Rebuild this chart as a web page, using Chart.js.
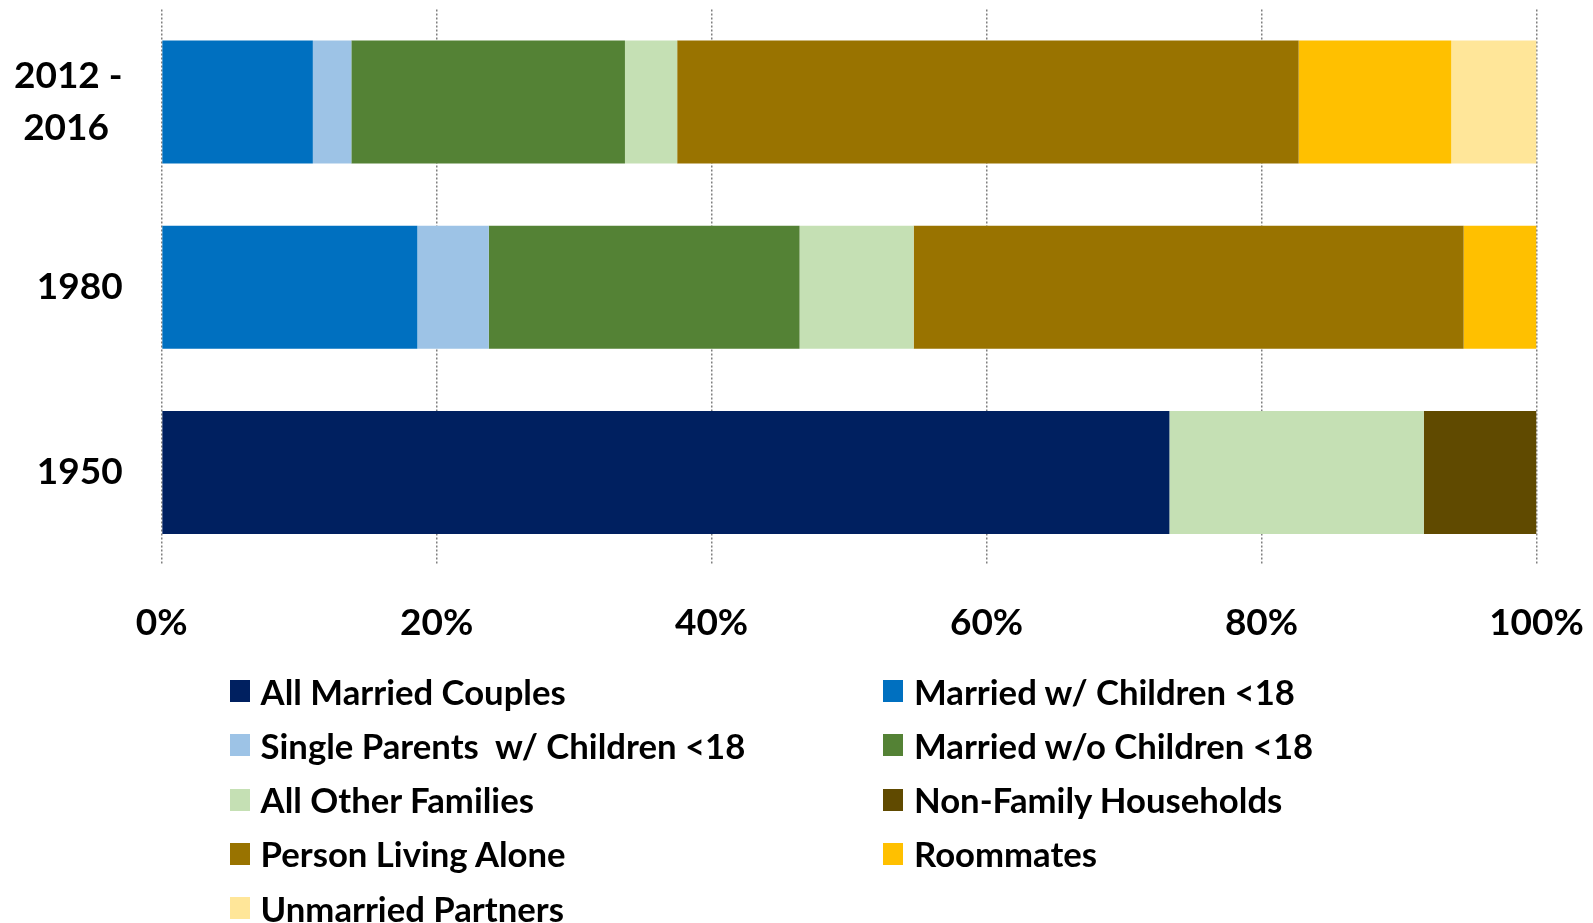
<!DOCTYPE html>
<html>
<head>
<meta charset="utf-8">
<script src="https://cdn.jsdelivr.net/npm/chart.js@4.4.1/dist/chart.umd.min.js"></script>
<style>
  html, body { margin: 0; padding: 0; background: #fff; }
  #wrap { position: relative; width: 1593px; height: 923px; overflow: hidden; }
  #myChart { position: absolute; left: 0; top: 0; }
  .lg { position: absolute; display: flex; align-items: center; font-family: Lato, sans-serif; font-weight: bold; font-size: 34.7px; color: #000; white-space: pre; }
  .lg span.box { display: inline-block; width: 20px; height: 22px; margin-right: 11px; }
</style>
</head>
<body>
<div id="wrap">
  <canvas id="myChart" width="1593" height="923"></canvas>
</div>
<script>
const periods = [['2012 -', '2016 \u2009'], '1980', '1950'];

const seriesNames = [
  'All Married Couples',
  'Married w/ Children <18',
  'Single Parents  w/ Children <18',
  'Married w/o Children <18',
  'All Other Families',
  'Non-Family Households',
  'Person Living Alone',
  'Roommates',
  'Unmarried Partners'
];

const seriesColors = ['#002060', '#0070C0', '#9DC3E6', '#548235', '#C5E0B4', '#604A00', '#997300', '#FFC000', '#FFE699'];

// share of households (%), order: 2012-2016, 1980, 1950
const allMarried     = [0, 0, 73.3];
const marriedKids    = [11.0, 18.6, 0];
const singleParents  = [2.8, 5.2, 0];
const marriedNoKids  = [19.9, 22.6, 0];
const otherFamilies  = [3.8, 8.3, 18.5];
const nonFamily      = [0, 0, 8.2];
const livingAlone    = [45.2, 40.0, 0];
const roommates      = [11.1, 5.3, 0];
const unmarried      = [6.2, 0, 0];

const xTicks = [0, 20, 40, 60, 80, 100];

const seriesValues = [allMarried, marriedKids, singleParents, marriedNoKids, otherFamilies, nonFamily, livingAlone, roommates, unmarried];

const datasets = seriesNames.map((name, i) => ({
  label: name,
  data: seriesValues[i],
  backgroundColor: seriesColors[i],
  borderWidth: 0,
  categoryPercentage: 0.664,
  barPercentage: 1.0
}));

const tickFont = { family: 'Lato', weight: 'bold', size: 37, lineHeight: 1.4 };

const config = {
  type: 'bar',
  data: { labels: periods, datasets: datasets },
  options: {
    indexAxis: 'y',
    responsive: false,
    animation: false,
    layout: { padding: { top: 9.5, right: 56.5, bottom: 278, left: 0 } },
    plugins: {
      legend: { display: false },
      tooltip: { enabled: false }
    },
    scales: {
      x: {
        stacked: true,
        min: 0,
        max: 100,
        afterBuildTicks: function(scale) {
          scale.ticks = xTicks.map(v => ({ value: v }));
        },
        afterFit: function(scale) {
          scale.height = 80;
          scale.paddingLeft = 0;
          scale.paddingRight = 0;
        },
        grid: {
          color: '#7f7f7f',
          lineWidth: 1.5,
          drawTicks: false
        },
        border: { display: false, dash: [2, 2] },
        ticks: {
          color: '#000',
          font: tickFont,
          padding: 32,
          callback: function(v) { return v + '%'; }
        }
      },
      y: {
        stacked: true,
        afterFit: function(scale) {
          scale.width = 161.6;
          scale.paddingTop = 0;
          scale.paddingBottom = 0;
        },
        grid: { display: false },
        border: { display: false },
        ticks: {
          color: '#000',
          font: tickFont,
          padding: 31
        }
      }
    }
  }
};

const chart = document.getElementById('myChart');
var myChart = new Chart(chart, config);

// two-column legend below the plot, row by row
const wrap = document.getElementById('wrap');
const colX = [229.6, 883];
const rowY0 = 691, rowStep = 54.3;
seriesNames.forEach((name, i) => {
  const item = document.createElement('div');
  item.className = 'lg';
  item.style.left = colX[i % 2] + 'px';
  item.style.top = (rowY0 + rowStep * Math.floor(i / 2) - 22) + 'px';
  item.style.height = '44px';
  const box = document.createElement('span');
  box.className = 'box';
  box.style.background = seriesColors[i];
  item.appendChild(box);
  item.appendChild(document.createTextNode(name));
  wrap.appendChild(item);
});
</script>
</body>
</html>
